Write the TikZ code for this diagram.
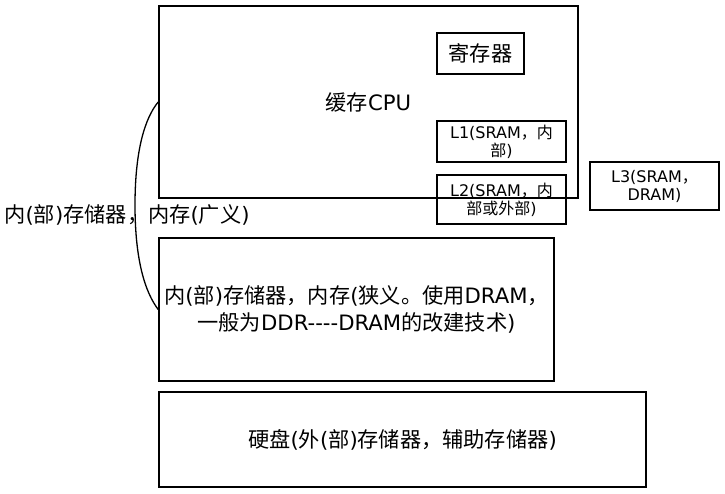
\documentclass[tikz,border=0pt]{standalone}
\usepackage{fontspec}
\setmainfont{DejaVu Sans}
\newfontfamily\latinfont{DejaVu Sans}
\newfontfamily\cjkfont{Noto Sans CJK SC}
% switch to the CJK font for ideographs and full-width punctuation
\newXeTeXintercharclass\cjkclass
\newcount\cjkcode
\cjkcode="3000
\loop
  \XeTeXcharclass\cjkcode=\cjkclass
  \ifnum\cjkcode<"9FFF \advance\cjkcode by 1
\repeat
\cjkcode="FF00
\loop
  \XeTeXcharclass\cjkcode=\cjkclass
  \ifnum\cjkcode<"FFEF \advance\cjkcode by 1
\repeat
\XeTeXinterchartokenstate=1
\XeTeXinterchartoks 0 \cjkclass = {\cjkfont}
\XeTeXinterchartoks 4095 \cjkclass = {\cjkfont}
\XeTeXinterchartoks \cjkclass 0 = {\latinfont}
\XeTeXinterchartoks 4095 0 = {\latinfont}
\begin{document}
\begin{tikzpicture}[
    x=1pt, y=-1pt,
    box/.style={rectangle, draw=black, line width=1.6pt, inner sep=0pt, align=center, font=\fontsize{21.2}{27}\selectfont},
    smallbox/.style={box, font=\fontsize{16}{18}\selectfont},
    brace/.style={draw=black, line width=1.3pt},
]
\useasboundingbox (0,0) rectangle (725,494);

\node[box, minimum width=419, minimum height=192] (cpu) at (368.5,102) {缓存CPU};
\node[box, minimum width=87, minimum height=41] (reg) at (480.5,53.5) {寄存器};
\node[smallbox, minimum width=129, minimum height=41] (l1) at (501.5,141.5) {L1(SRAM，内\\部)};
\node[smallbox, minimum width=129, minimum height=49] (l2) at (501.5,199.5) {L2(SRAM，内\\部或外部)};
\node[smallbox, minimum width=129, minimum height=48] (l3) at (654.5,186) {L3(SRAM，\\DRAM)};

\node[box, minimum width=395, minimum height=143] (mem) at (356.5,309.5) {内(部)存储器，内存(狭义。使用DRAM，\\一般为DDR----DRAM的改建技术)};
\node[box, minimum width=487, minimum height=95] (disk) at (402.5,439.5) {硬盘(外(部)存储器，辅助存储器)};

% bracket round the main memory
\draw[brace] (cpu.west) .. controls (145,118) and (135,150) .. (135,205)
    .. controls (135,260) and (145,292) .. (mem.west);
\node[font=\fontsize{21.2}{27}\selectfont] (mainmem) at (127,215) {内(部)存储器，内存(广义)};
\end{tikzpicture}
\end{document}
